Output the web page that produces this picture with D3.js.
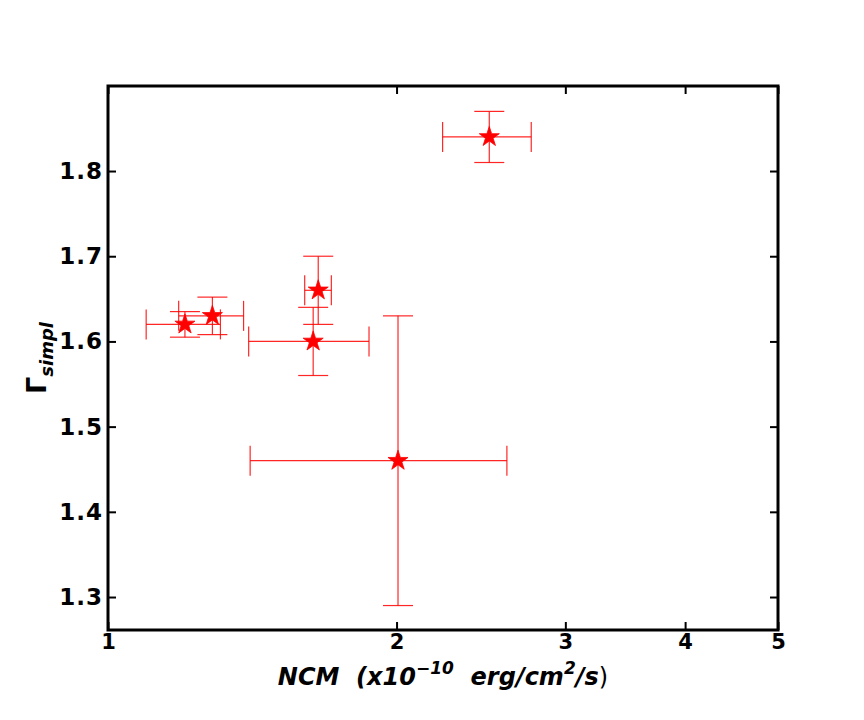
<!DOCTYPE html>
<html>
<head>
<meta charset="utf-8">
<script src="https://cdn.jsdelivr.net/npm/d3@7"></script>
<style>
  body { margin: 0; background: #fff; }
  text { font-family: "DejaVu Sans", sans-serif; }
</style>
</head>
<body>
<svg id="chart" width="864" height="720"></svg>
<script>
// flux (x1e-10 erg/cm2/s) vs simpl photon index
var flux     = [1.203, 1.285, 1.657, 1.637, 2.007, 2.499];
var fluxErr  = [0.107, 0.100, 0.053, 0.235, 0.600, 0.265];
var gamma    = [1.620, 1.630, 1.660, 1.600, 1.460, 1.840];
var gammaErr = [0.015, 0.022, 0.040, 0.040, 0.170, 0.030];
var xTicks = [1, 2, 3, 4, 5];
var yTicks = [1.3, 1.4, 1.5, 1.6, 1.7, 1.8];

var margin = {top: 86, right: 86, bottom: 90, left: 108},
    width = 864 - margin.left - margin.right,
    height = 720 - margin.top - margin.bottom;

var svg = d3.select('#chart');
var g = svg.append('g').attr('transform', 'translate(' + margin.left + ',' + margin.top + ')');

var x = d3.scaleLog().domain([1, 5]).range([0, width]);
var y = d3.scaleLinear().domain([1.2613, 1.8998]).range([height, 0]);

var points = flux.map(function(f, i) {
  return {x: f, xe: fluxErr[i], y: gamma[i], ye: gammaErr[i]};
});

var cap = 15;
var red = 'red';

var eb = g.selectAll('.eb').data(points).enter().append('g')
  .attr('class', 'eb')
  .attr('stroke', red)
  .attr('stroke-opacity', 0.85)
  .attr('stroke-width', 1.2)
  .attr('fill', 'none');

// horizontal bars + caps
eb.append('line')
  .attr('x1', d => x(d.x - d.xe)).attr('x2', d => x(d.x + d.xe))
  .attr('y1', d => y(d.y)).attr('y2', d => y(d.y));
eb.append('line')
  .attr('x1', d => x(d.x - d.xe)).attr('x2', d => x(d.x - d.xe))
  .attr('y1', d => y(d.y) - cap).attr('y2', d => y(d.y) + cap);
eb.append('line')
  .attr('x1', d => x(d.x + d.xe)).attr('x2', d => x(d.x + d.xe))
  .attr('y1', d => y(d.y) - cap).attr('y2', d => y(d.y) + cap);
// vertical bars + caps
eb.append('line')
  .attr('x1', d => x(d.x)).attr('x2', d => x(d.x))
  .attr('y1', d => y(d.y - d.ye)).attr('y2', d => y(d.y + d.ye));
eb.append('line')
  .attr('x1', d => x(d.x) - cap).attr('x2', d => x(d.x) + cap)
  .attr('y1', d => y(d.y - d.ye)).attr('y2', d => y(d.y - d.ye));
eb.append('line')
  .attr('x1', d => x(d.x) - cap).attr('x2', d => x(d.x) + cap)
  .attr('y1', d => y(d.y + d.ye)).attr('y2', d => y(d.y + d.ye));

// star markers
g.selectAll('.star').data(points).enter().append('path')
  .attr('class', 'star')
  .attr('d', d3.symbol().type(d3.symbolStar).size(125))
  .attr('transform', d => 'translate(' + x(d.x) + ',' + y(d.y) + ')')
  .attr('fill', red)
  .attr('stroke', red)
  .attr('stroke-width', 0.8);

// axes: ticks pointing inward on all sides
var tickLen = 8;
var xAxis = d3.axisBottom(x).tickValues(xTicks).tickFormat(d3.format('d'))
  .tickSizeInner(-tickLen).tickSizeOuter(0).tickPadding(4);
var yAxis = d3.axisLeft(y).tickValues(yTicks).tickFormat(d3.format('.1f'))
  .tickSizeInner(-tickLen).tickSizeOuter(0).tickPadding(5);

var gx = g.append('g').attr('transform', 'translate(0,' + height + ')').call(xAxis);
var gy = g.append('g').call(yAxis);
g.append('g').call(d3.axisTop(x).tickValues(xTicks).tickFormat('').tickSizeInner(-tickLen).tickSizeOuter(0));
g.append('g').attr('transform', 'translate(' + width + ',0)')
  .call(d3.axisRight(y).tickValues(yTicks).tickFormat('').tickSizeInner(-tickLen).tickSizeOuter(0));

g.selectAll('.domain').remove();
g.selectAll('.tick line').attr('stroke', '#000').attr('stroke-width', 2);

gx.selectAll('.tick text')
  .attr('font-size', 21).attr('font-weight', 'bold').attr('fill', '#000');
gy.selectAll('.tick text')
  .attr('font-size', 23).attr('font-weight', 'bold').attr('fill', '#000')
  .attr('letter-spacing', 1);

// frame
g.append('rect')
  .attr('width', width).attr('height', height)
  .attr('fill', 'none').attr('stroke', '#000').attr('stroke-width', 3);

// x label
var xl = svg.append('text')
  .attr('x', 443)
  .attr('y', 685)
  .attr('text-anchor', 'middle')
  .attr('font-size', 24)
  .attr('font-weight', 'bold')
  .attr('font-style', 'italic')
  .attr('fill', '#000');
xl.append('tspan').text('NCM\u00a0\u00a0(x10');
xl.append('tspan').attr('dy', -11).attr('font-size', 17).text('\u221210');
xl.append('tspan').attr('dy', 11).text('\u00a0\u00a0erg/cm');
xl.append('tspan').attr('dy', -11).attr('font-size', 17).text('2');
xl.append('tspan').attr('dy', 11).text('/s');
xl.append('tspan').attr('font-weight', 'normal').attr('font-style', 'normal').text(')');

// y label
var yl = svg.append('text')
  .attr('transform', 'translate(46,358) rotate(-90)')
  .attr('text-anchor', 'middle')
  .attr('fill', '#000');
yl.append('tspan').attr('font-size', 27).attr('font-weight', 'bold').text('\u0393');
yl.append('tspan').attr('dy', 7).attr('font-size', 18).attr('font-weight', 'bold')
  .attr('font-style', 'italic').text('simpl');
</script>
</body>
</html>
